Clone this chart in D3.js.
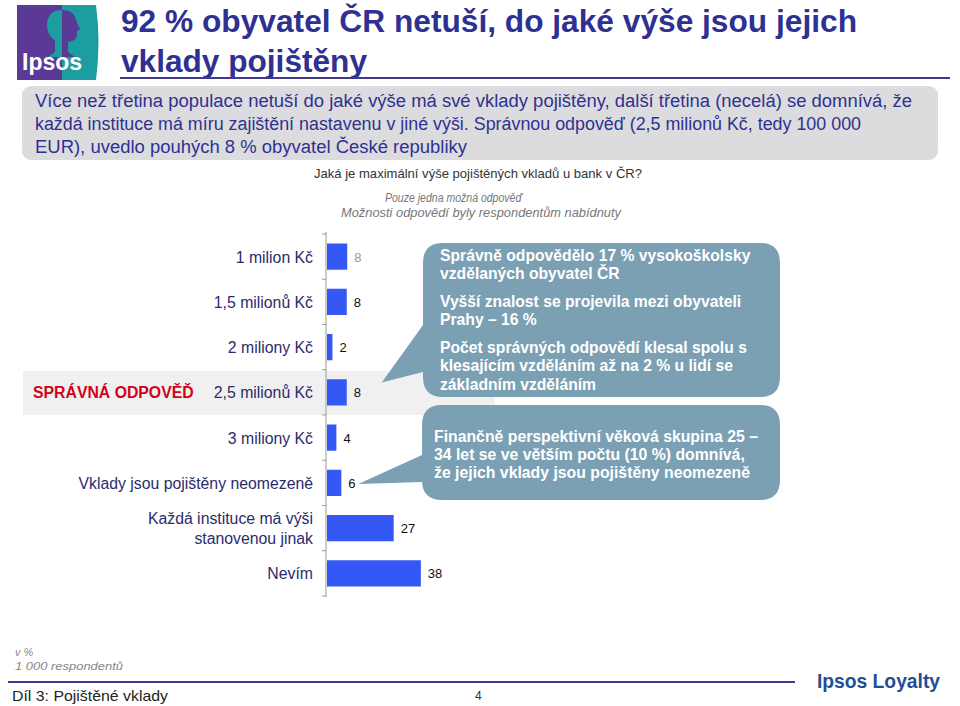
<!DOCTYPE html>
<html><head><meta charset="utf-8">
<script src="https://cdn.jsdelivr.net/npm/d3@7"></script>
<style>body{margin:0;background:#fff}svg{display:block}text{font-family:"Liberation Sans",Arial,sans-serif}</style>
</head><body><svg id="c" width="960" height="706"></svg>
<script>
const categories = ["1 milion Kč","1,5 milionů Kč","2 miliony Kč","2,5 milionů Kč","3 miliony Kč","Vklady jsou pojištěny neomezeně","Každá instituce má výši|stanovenou jinak","Nevím"];
const values = [8.2, 8, 2.2, 8, 3.8, 5.8, 27, 38];
const valueLabels = ["8","8","2","8","4","6","27","38"];
const correctIndex = 3;
const titleLines = ["92 % obyvatel ČR netuší, do jaké výše jsou jejich","vklady pojištěny"];
const summaryLines = ["Více než třetina populace netuší do jaké výše má své vklady pojištěny, další třetina (necelá) se domnívá, že","každá instituce má míru zajištění nastavenu v jiné výši. Správnou odpověď (2,5 milionů Kč, tedy 100 000","EUR), uvedlo pouhých 8 % obyvatel České republiky"];
const callout1 = [["Správně odpovědělo 17 % vysokoškolsky","vzdělaných obyvatel ČR"],["Vyšší znalost se projevila mezi obyvateli","Prahy – 16 %"],["Počet správných odpovědí klesal spolu s","klesajícím vzděláním až na  2 % u lidí se","základním vzděláním"]];
const callout2 = ["Finančně perspektivní věková skupina 25 –","34 let se ve větším počtu (10 %) domnívá,","že jejich vklady jsou pojištěny neomezeně"];

const svg = d3.select("#c");
const navy = "#2E3192", barC = "#3358F5", callC = "#7BA0B4";

// logo
const lg = svg.append("g");
lg.append("rect").attr("x",17).attr("y",5).attr("width",46).attr("height",75).attr("fill","#5A3A96");
lg.append("path").attr("d","M62,5 L96,5 Q101,42 96,80 L62,80 Z").attr("fill","#1C9DA0");
lg.append("path").attr("d","M62,10 Q49,10 47,23 Q46,34 55,41 L55,52 L48,57 L62,57 Z").attr("fill","#1C9DA0");
lg.append("path").attr("d","M62,10 Q75,10 77,23 L80,29 L77,31 Q78,39 72,41 L68,42 L68,52 L75,57 L62,57 Z").attr("fill","#5A3A96");
lg.append("text").attr("x",22).attr("y",70).attr("fill","#fff").attr("font-weight","bold").attr("font-size",23).text("Ipsos");

// title
const titleW = [736, 246];
svg.selectAll(".tt").data(titleLines).join("text").attr("x",121).attr("y",(d,i)=>32+i*40)
  .attr("fill",navy).attr("font-weight","bold").attr("font-size",31)
  .attr("textLength",(d,i)=>titleW[i]).attr("lengthAdjust","spacingAndGlyphs").text(d=>d);
svg.append("line").attr("x1",120).attr("x2",950).attr("y1",78).attr("y2",78).attr("stroke","#3F3A8C").attr("stroke-width",2);

// summary box
svg.append("rect").attr("x",22).attr("y",86).attr("width",916).attr("height",74).attr("rx",9).attr("fill","#DCDCDE");
const sumW = [877, 826, 432];
svg.selectAll(".sm").data(summaryLines).join("text").attr("x",35).attr("y",(d,i)=>107+i*23)
  .attr("fill",navy).attr("font-size",18).attr("textLength",(d,i)=>sumW[i]).attr("lengthAdjust","spacingAndGlyphs").text(d=>d);

// question
svg.append("text").attr("x",314).attr("y",178).attr("font-size",13).attr("fill","#333")
  .attr("textLength",328).attr("lengthAdjust","spacingAndGlyphs").text("Jaká je maximální výše pojištěných vkladů u bank v ČR?");
svg.append("text").attr("x",385).attr("y",202).attr("font-size",12).attr("font-style","italic").attr("fill","#777")
  .attr("textLength",137).attr("lengthAdjust","spacingAndGlyphs").text("Pouze jedna možná odpověď");
svg.append("text").attr("x",341).attr("y",217).attr("font-size",12).attr("font-style","italic").attr("fill","#777")
  .attr("textLength",280).attr("lengthAdjust","spacingAndGlyphs").text("Možnosti odpovědí byly respondentům nabídnuty");

// scales
const x = d3.scaleLinear().domain([0,100]).range([326, 326+247]);
const y = d3.scaleBand().domain(categories).range([234,596]).paddingInner(0.42).paddingOuter(0.21);
const step = y.step();

// highlight band
const hb = y(categories[correctIndex]) - (step - y.bandwidth())/2;
svg.append("rect").attr("x",23).attr("y",hb+1).attr("width",472).attr("height",step-1).attr("fill","#F0F0F0");

// axis
const axis = d3.axisLeft(y).tickSize(0).tickFormat("");
const ag = svg.append("g").attr("transform",`translate(${x(0)},0)`).call(axis);
ag.select(".domain").attr("stroke","#999").attr("d","M0,232V597");
const bounds = d3.range(categories.length+1).map(i=>234+i*step);
svg.selectAll(".tk").data(bounds).join("line").attr("x1",x(0)-4).attr("x2",x(0)).attr("y1",d=>d).attr("y2",d=>d).attr("stroke","#999");

// bars
svg.selectAll(".bar").data(values).join("rect").attr("x",x(0)+1).attr("y",(d,i)=>y(categories[i]))
  .attr("width",d=>x(d)-x(0)).attr("height",y.bandwidth()).attr("fill",barC);
svg.selectAll(".vl").data(values).join("text").attr("x",d=>x(d)+8).attr("y",(d,i)=>y(categories[i])+y.bandwidth()/2+5)
  .attr("font-size",13).attr("fill",(d,i)=>i===0?"#999":"#111").text((d,i)=>valueLabels[i]);

// category labels
categories.forEach((c,i)=>{
  const parts = c.split("|");
  const cy = y(c)+y.bandwidth()/2;
  parts.forEach((p,j)=>{
    svg.append("text").attr("x",313).attr("y",cy+6+(j-(parts.length-1)/2)*20).attr("text-anchor","end")
      .attr("font-size",15.8).attr("fill","#2B2B6E").text(p);
  });
});
svg.append("text").attr("x",33).attr("y",y(categories[correctIndex])+y.bandwidth()/2+6)
  .attr("font-size",15.8).attr("font-weight","bold").attr("fill","#D0021B").text("SPRÁVNÁ ODPOVĚĎ");

// callouts
function callout(bx,by,bw,bh,tip,b1,b2){
  const r=20;
  const p=`M${bx+r},${by} H${bx+bw-r} Q${bx+bw},${by} ${bx+bw},${by+r} V${by+bh-r} Q${bx+bw},${by+bh} ${bx+bw-r},${by+bh} H${bx+r} Q${bx},${by+bh} ${bx},${by+bh-r} V${b2} L${tip[0]},${tip[1]} L${bx},${b1} V${by+r} Q${bx},${by} ${bx+r},${by} Z`;
  svg.append("path").attr("d",p).attr("fill",callC);
}
const tip1 = [x(values[correctIndex])+36, y(categories[correctIndex])+y.bandwidth()/2-10];
callout(423,243,357,154,tip1,325,372);
const tip2 = [x(values[5])+18, y(categories[5])+y.bandwidth()/2+1];
callout(422,405,358,95,tip2,455,482);
let ly=[[261,279],[307,325],[353,371,390]];
callout1.forEach((g,gi)=>g.forEach((t,ti)=>{
  svg.append("text").attr("x",440).attr("y",ly[gi][ti]).attr("fill","#fff").attr("font-weight","bold").attr("font-size",15.7).text(t);
}));
callout2.forEach((t,i)=>svg.append("text").attr("x",434).attr("y",442+i*18).attr("fill","#fff").attr("font-weight","bold").attr("font-size",15.8).text(t));

// footer
svg.append("text").attr("x",15).attr("y",656).attr("font-size",11).attr("font-style","italic").attr("fill","#888").text("v %");
svg.append("text").attr("x",15).attr("y",670).attr("font-size",11).attr("font-style","italic").attr("fill","#888")
  .attr("textLength",108).attr("lengthAdjust","spacingAndGlyphs").text("1 000 respondentů");
svg.append("line").attr("x1",8).attr("x2",795).attr("y1",682).attr("y2",682).attr("stroke","#3F3A8C").attr("stroke-width",2);
svg.append("text").attr("x",12).attr("y",701).attr("font-size",15).attr("fill","#222")
  .attr("textLength",156).attr("lengthAdjust","spacingAndGlyphs").text("Díl 3: Pojištěné vklady");
svg.append("text").attr("x",475).attr("y",700).attr("font-size",12).attr("fill","#333").text("4");
svg.append("text").attr("x",817).attr("y",688).attr("font-size",21).attr("font-weight","bold").attr("fill","#1F4E96")
  .attr("textLength",123).attr("lengthAdjust","spacingAndGlyphs").text("Ipsos Loyalty");
</script></body></html>
